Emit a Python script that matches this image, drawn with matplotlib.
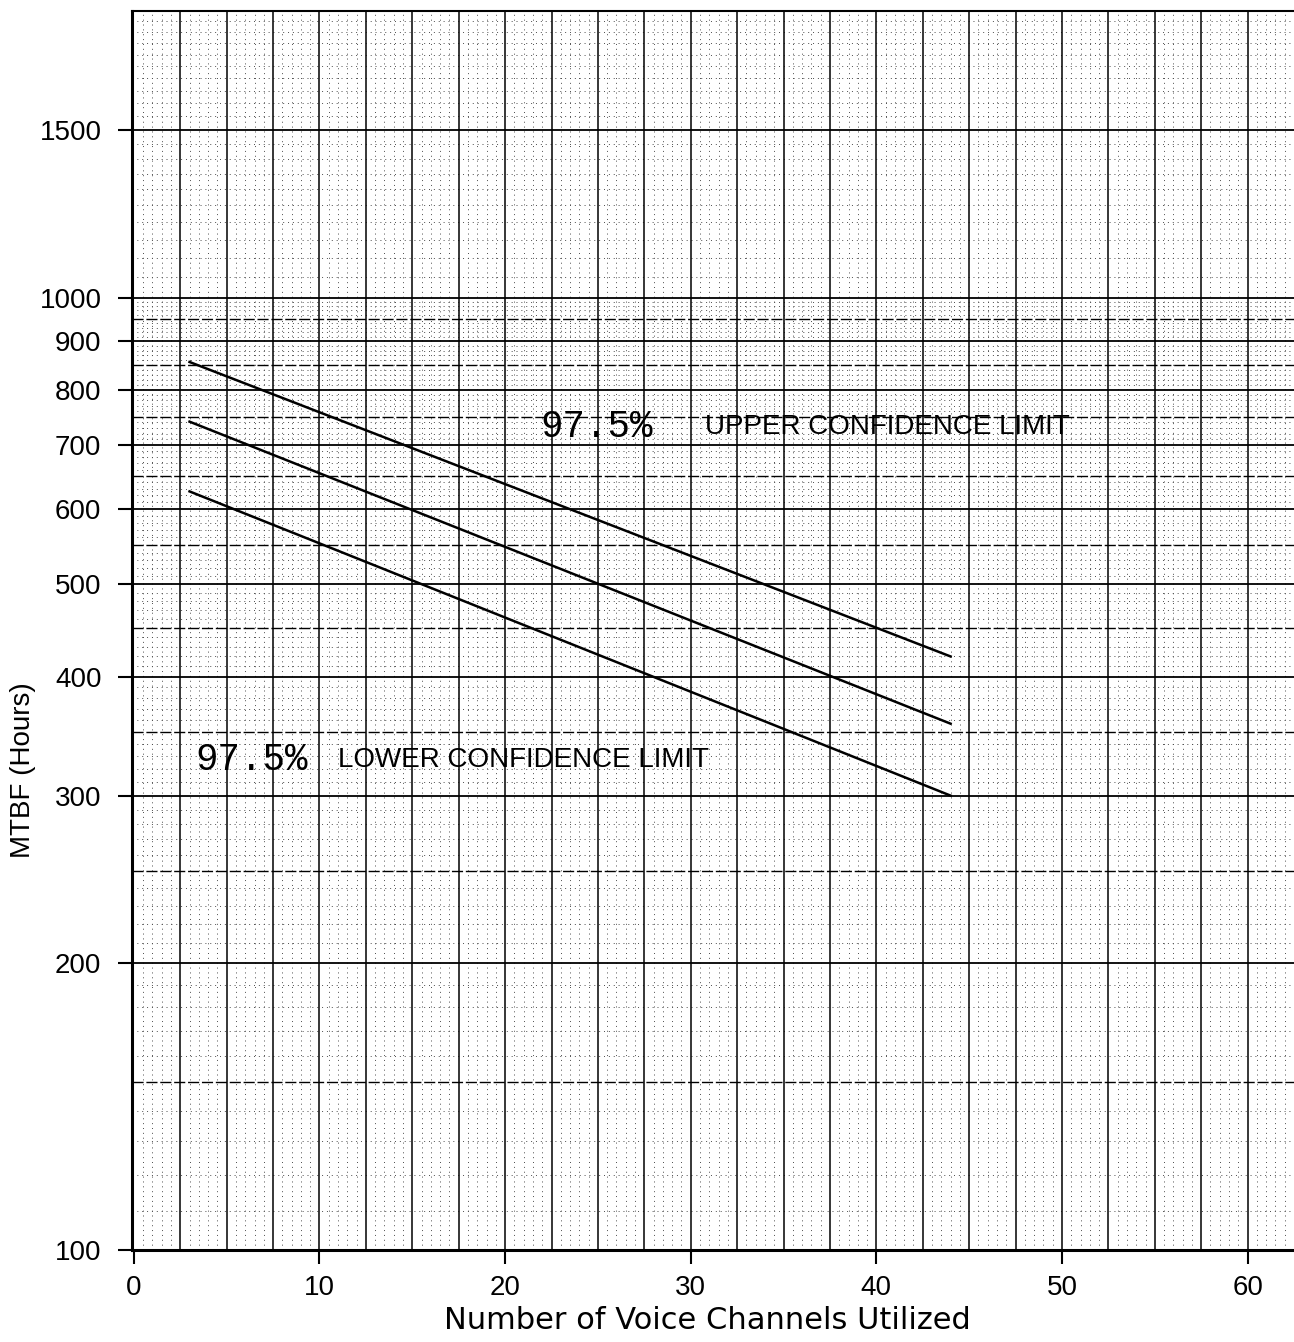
import numpy as np
import matplotlib
matplotlib.use('Agg')
from matplotlib import pyplot as plt
from matplotlib.ticker import FixedLocator, FixedFormatter, NullLocator

# values (log y axis)
channels = [3, 44]
upper_mtbf = [856, 420]   # 97.5% upper confidence limit
point_mtbf = [741, 357]   # point estimate
lower_mtbf = [626, 300]   # 97.5% lower confidence limit

xticks = [0, 10, 20, 30, 40, 50, 60]
yticks = [100, 200, 300, 400, 500, 600, 700, 800, 900, 1000, 1500]
ylabels = ['100', '200', '300', '400', '500', '600', '700', '800', '900', '1000', '1500']

W, H = 1294, 1342
fig = plt.figure(figsize=(W/100, H/100), dpi=100)
ax = fig.add_axes([132/W, 92/H, (W-132)/W, 1239/H])
ax.set_yscale('log')
ax.set_xlim(-0.1, 62.5)
ax.set_ylim(100, 2000)

# graph paper
for x in np.arange(0.5, 62.5, 0.5):
    if abs(x/2.5 - round(x/2.5)) < 1e-6:
        ax.axvline(x, color='black', lw=1.1, zorder=1)
    else:
        ax.axvline(x, color='0.3', lw=0.7, ls=(0, (1, 4)), zorder=0)
for y in range(110, 1000, 10):
    if y % 100 == 0:
        ax.axhline(y, color='black', lw=1.3, zorder=1)
    elif y % 50 == 0:
        ax.axhline(y, color='black', lw=1.0, ls=(0, (8, 2)), zorder=1)
    else:
        ax.axhline(y, color='0.3', lw=0.7, ls=(0, (1, 4)), zorder=0)
for y in range(1000, 2000, 50):
    if y in (1000, 1500):
        ax.axhline(y, color='black', lw=1.3, zorder=1)
    else:
        ax.axhline(y, color='0.3', lw=0.7, ls=(0, (1, 4)), zorder=0)

ax.plot(channels, upper_mtbf, color='black', lw=1.8, zorder=3)
ax.plot(channels, point_mtbf, color='black', lw=1.8, zorder=3)
ax.plot(channels, lower_mtbf, color='black', lw=1.8, zorder=3)

ax.text(21.9, 732, '97.5%', family='Liberation Mono', fontsize=27, va='center', ha='left', zorder=4)
ax.text(50.4, 732, 'UPPER CONFIDENCE LIMIT', family='Liberation Sans', fontsize=20,
        va='center', ha='right', zorder=4)
ax.text(3.3, 327, '97.5%', family='Liberation Mono', fontsize=27, va='center', ha='left', zorder=4)
ax.text(11.0, 327, 'LOWER CONFIDENCE LIMIT', family='Liberation Sans', fontsize=20,
        va='center', ha='left', zorder=4)

ax.xaxis.set_major_locator(FixedLocator(xticks))
ax.xaxis.set_minor_locator(NullLocator())
ax.yaxis.set_major_locator(FixedLocator(yticks))
ax.yaxis.set_major_formatter(FixedFormatter(ylabels))
ax.yaxis.set_minor_locator(NullLocator())
ax.tick_params(axis='both', direction='out', width=1.5, color='black', labelsize=20)
ax.tick_params(axis='x', length=10, pad=8)
ax.tick_params(axis='y', length=10, pad=12)
for lab in ax.get_xticklabels() + ax.get_yticklabels():
    lab.set_family('Liberation Sans')

for s in ['left', 'bottom']:
    ax.spines[s].set_linewidth(2.2)
ax.spines['top'].set_linewidth(1.5)
ax.spines['right'].set_visible(False)

ax.set_xlabel('Number of Voice Channels Utilized', fontsize=22, family='DejaVu Sans', va='center')
ax.xaxis.set_label_coords(0.495, -0.0565)
ax.set_ylabel('MTBF (Hours)', fontsize=20, family='Liberation Sans', va='center')
ax.yaxis.set_label_coords(-0.094, 0.387)

plt.savefig('out.png', dpi=100)
